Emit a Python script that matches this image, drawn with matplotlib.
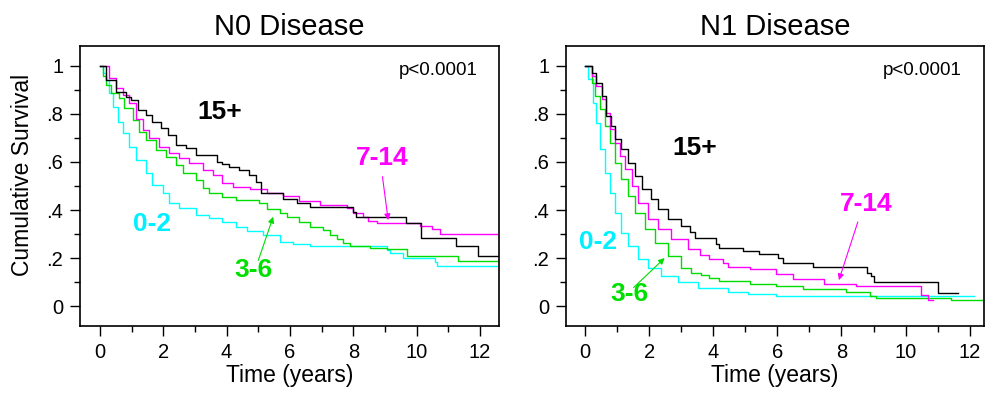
import matplotlib
matplotlib.use("Agg")
import matplotlib.pyplot as plt
from matplotlib.ticker import MultipleLocator

plt.rcParams['font.family'] = ['Liberation Sans', 'DejaVu Sans']

# ---- N0 disease (left panel), Kaplan-Meier step points
n0_15_t = [0, 0.19, 0.5, 0.82, 0.98, 1.19, 1.45, 1.66, 1.93, 2.14, 2.4, 2.72, 3.03, 3.7, 3.87,
           4.08, 4.4, 4.71, 4.93, 5.08, 5.79, 6.21, 6.63, 8.0, 8.1, 9.65, 10.14, 11.24, 11.95, 12.6]
n0_15_s = [1.0, 0.94, 0.893, 0.872, 0.858, 0.817, 0.796, 0.768, 0.74, 0.712, 0.67, 0.66, 0.63, 0.60, 0.59,
           0.58, 0.567, 0.546, 0.518, 0.47, 0.446, 0.43, 0.414, 0.393, 0.372, 0.347, 0.285, 0.251, 0.21, 0.21]

n0_714_t = [0, 0.3, 0.5, 0.72, 0.93, 1.14, 1.35, 1.56, 1.87, 2.19, 2.5, 2.82, 3.24, 3.56, 3.87, 4.19,
            4.74, 5.26, 5.79, 6.3, 6.95, 7.79, 8.0, 8.32, 8.47, 8.74, 10.1, 10.47, 10.74, 12.6]
n0_714_s = [1.0, 0.949, 0.907, 0.88, 0.845, 0.78, 0.733, 0.699, 0.664, 0.636, 0.615, 0.595, 0.567, 0.546,
            0.511, 0.497, 0.486, 0.47, 0.458, 0.437, 0.42, 0.407, 0.386, 0.37, 0.356, 0.345, 0.333, 0.32, 0.30, 0.30]

n0_36_t = [0, 0.1, 0.19, 0.35, 0.61, 0.77, 1.03, 1.24, 1.45, 1.77, 2.08, 2.4, 2.61, 3.03, 3.24, 3.45,
           3.87, 4.29, 5.03, 5.26, 5.68, 5.9, 6.3, 6.63, 7.05, 7.26, 7.47, 7.68, 7.9, 8.53, 9.05, 9.68,
           11.3, 12.6]
n0_36_s = [1.0, 0.96, 0.92, 0.886, 0.865, 0.824, 0.775, 0.726, 0.69, 0.65, 0.622, 0.588, 0.553, 0.525,
           0.49, 0.47, 0.455, 0.44, 0.428, 0.404, 0.386, 0.372, 0.351, 0.33, 0.317, 0.296, 0.278, 0.261,
           0.25, 0.243, 0.236, 0.208, 0.188, 0.188]

n0_02_t = [0, 0.1, 0.19, 0.3, 0.4, 0.56, 0.72, 0.93, 1.14, 1.45, 1.66, 1.98, 2.19, 2.5, 3.03, 3.45,
           3.87, 4.29, 4.63, 5.16, 5.68, 6.1, 6.63, 9.05, 9.16, 9.58, 10.58, 10.63, 12.6]
n0_02_s = [1.0, 0.97, 0.94, 0.886, 0.83, 0.768, 0.72, 0.664, 0.608, 0.553, 0.504, 0.47, 0.428, 0.407,
           0.379, 0.365, 0.351, 0.33, 0.314, 0.296, 0.268, 0.258, 0.25, 0.233, 0.22, 0.201, 0.185, 0.168, 0.168]

# ---- N1 disease (right panel)
n1_15_t = [0, 0.2, 0.35, 0.51, 0.66, 0.82, 0.92, 1.13, 1.34, 1.55, 1.76, 2.07, 2.28, 2.59, 3.0, 3.26,
           3.42, 4.09, 4.19, 4.92, 5.44, 6.01, 6.17, 7.1, 8.8, 8.93, 9.03, 11.01, 11.63]
n1_15_s = [1.0, 0.972, 0.93, 0.875, 0.79, 0.75, 0.694, 0.653, 0.597, 0.54, 0.486, 0.444, 0.403, 0.361,
           0.333, 0.31, 0.285, 0.257, 0.243, 0.229, 0.215, 0.2, 0.181, 0.164, 0.139, 0.125, 0.1, 0.053, 0.053]

n1_714_t = [0, 0.2, 0.35, 0.51, 0.66, 0.77, 0.92, 1.08, 1.24, 1.45, 1.65, 1.97, 2.28, 2.69, 3.22, 3.57,
            3.88, 4.3, 4.45, 5.13, 5.96, 6.48, 7.47, 8.46, 10.49, 10.7, 10.85]
n1_714_s = [1.0, 0.958, 0.917, 0.861, 0.806, 0.736, 0.68, 0.625, 0.57, 0.5, 0.431, 0.361, 0.32, 0.278,
            0.236, 0.211, 0.197, 0.181, 0.164, 0.153, 0.132, 0.111, 0.093, 0.083, 0.045, 0.025, 0.025]

n1_36_t = [0, 0.2, 0.3, 0.46, 0.61, 0.77, 0.92, 1.13, 1.34, 1.55, 1.86, 2.17, 2.59, 3.0, 3.3, 3.63,
           3.88, 4.19, 5.13, 5.96, 6.79, 8.15, 8.88, 9.08, 11.43, 12.45]
n1_36_s = [1.0, 0.93, 0.875, 0.82, 0.75, 0.68, 0.597, 0.528, 0.458, 0.389, 0.32, 0.264, 0.208, 0.16,
           0.139, 0.129, 0.115, 0.104, 0.093, 0.083, 0.0725, 0.058, 0.042, 0.035, 0.025, 0.025]

n1_02_t = [0, 0.09, 0.25, 0.35, 0.46, 0.61, 0.77, 0.92, 1.13, 1.34, 1.65, 1.97, 2.38, 2.9, 3.53, 4.45,
           5.08, 5.96, 12.15]
n1_02_s = [1.0, 0.944, 0.847, 0.764, 0.653, 0.556, 0.472, 0.389, 0.306, 0.25, 0.194, 0.16, 0.125, 0.1,
           0.077, 0.058, 0.049, 0.042, 0.042]

colors = {"15+": "black", "7-14": "#ff00ff", "3-6": "#00dd00", "0-2": "#00ffff"}
label_colors = {"15+": "black", "7-14": "#ff00ff", "3-6": "#00e000", "0-2": "#00f0ff"}

yticks = [0, 0.2, 0.4, 0.6, 0.8, 1.0]
ytick_labels = ["0", ".2", ".4", ".6", ".8", "1"]
xticks = [0, 2, 4, 6, 8, 10, 12]

panels = [
    dict(title="N0 Disease", xlim=(-0.63, 12.6), pval=(11.94, 0.98),
         curves={"15+": (n0_15_t, n0_15_s), "7-14": (n0_714_t, n0_714_s),
                 "3-6": (n0_36_t, n0_36_s), "0-2": (n0_02_t, n0_02_s)},
         labels={"15+": (3.79, 0.81), "7-14": (8.9, 0.615), "0-2": (1.63, 0.34), "3-6": (4.84, 0.15)},
         arrows={"7-14": ((8.92, 0.539), (9.1, 0.358)), "3-6": ((5.0, 0.19), (5.47, 0.372))}),
    dict(title="N1 Disease", xlim=(-0.6, 12.45), pval=(11.74, 0.983),
         curves={"15+": (n1_15_t, n1_15_s), "7-14": (n1_714_t, n1_714_s),
                 "3-6": (n1_36_t, n1_36_s), "0-2": (n1_02_t, n1_02_s)},
         labels={"15+": (3.41, 0.66), "7-14": (8.77, 0.424), "0-2": (0.39, 0.267), "3-6": (1.38, 0.049)},
         arrows={"7-14": ((8.51, 0.35), (7.92, 0.108)), "3-6": ((1.51, 0.077), (2.48, 0.2))}),
]

fig = plt.figure(figsize=(9.86, 3.96), dpi=100)
axes = [fig.add_axes([0.0811, 0.1768, 0.425, 0.707]),
        fig.add_axes([0.574, 0.1768, 0.424, 0.707])]

for ax, p in zip(axes, panels):
    for g in ["0-2", "3-6", "7-14", "15+"]:
        t, s = p["curves"][g]
        ax.step(t, s, where="post", color=colors[g], lw=1.0)
    for g, (x, y) in p["labels"].items():
        ax.text(x, y, g, color=label_colors[g], fontsize=19, fontweight="bold",
                ha="center", va="center")
    for g, (start, end) in p["arrows"].items():
        ax.annotate("", xy=end, xytext=start,
                    arrowprops=dict(arrowstyle="-|>", color=colors[g], lw=0.8,
                                    mutation_scale=9, shrinkA=0, shrinkB=0))
    ax.text(p["pval"][0], p["pval"][1], "p<0.0001", fontsize=13.5, ha="right", va="center")

    ax.set_xlim(*p["xlim"])
    ax.set_ylim(-0.083, 1.083)
    ax.set_xticks(xticks)
    ax.set_yticks(yticks)
    ax.set_yticklabels(ytick_labels)
    ax.xaxis.set_minor_locator(MultipleLocator(1))
    ax.yaxis.set_minor_locator(MultipleLocator(0.1))
    ax.tick_params(which="major", direction="out", length=7, width=1, labelsize=14.5, pad=5)
    ax.tick_params(which="minor", direction="out", length=4.5, width=1)
    ax.tick_params(top=False, right=False, which="both")
    for sp in ax.spines.values():
        sp.set_linewidth(1.2)
    ax.set_title(p["title"], fontsize=21, pad=8)
    ax.set_xlabel("Time (years)", fontsize=16.5, labelpad=2)

axes[0].set_ylabel("Cumulative Survival", fontsize=16.5)
axes[0].yaxis.set_label_coords(-0.11, 0.54)

fig.savefig("out.png", dpi=100)
